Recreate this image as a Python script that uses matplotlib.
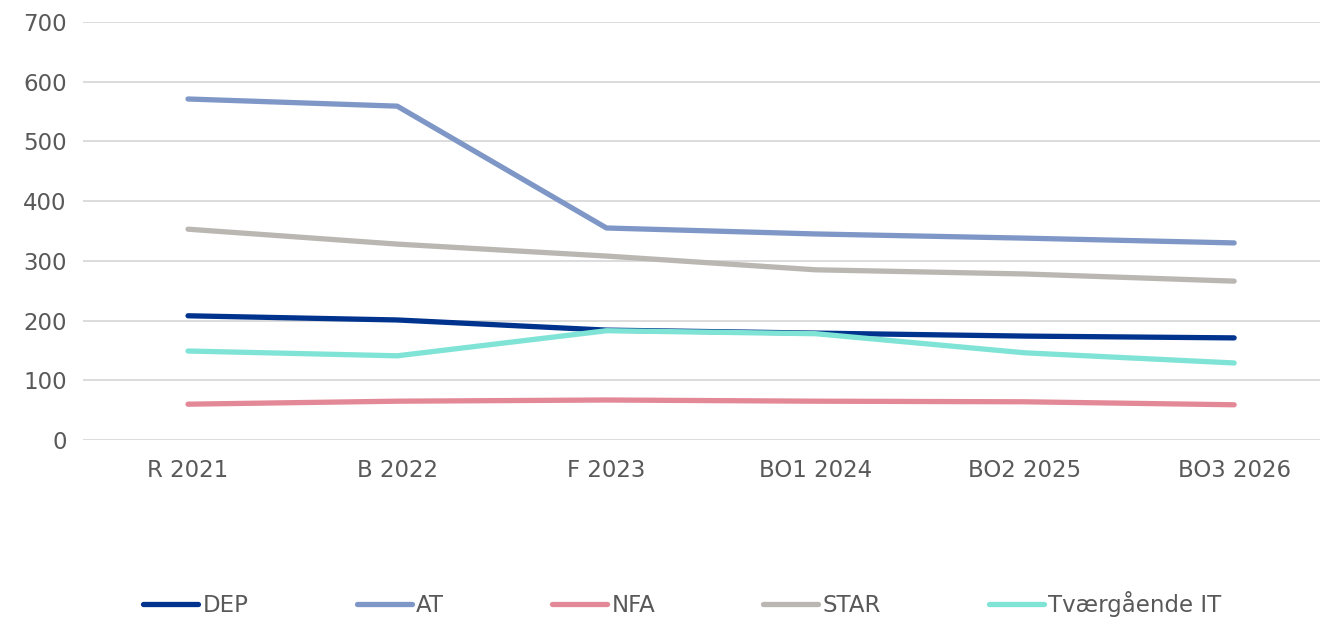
import matplotlib.pyplot as plt

# categories and series
years = ["R 2021", "B 2022", "F 2023", "BO1 2024", "BO2 2025", "BO3 2026"]
dep = [208, 201, 184, 179, 174, 171]
at = [571, 559, 355, 345, 338, 330]
nfa = [60, 65, 67, 65, 64, 59]
star = [353, 328, 308, 285, 278, 266]
tvaer = [149, 141, 183, 178, 146, 129]

series = [("DEP", dep, "#00338D"),
          ("AT", at, "#7F97C6"),
          ("NFA", nfa, "#E38896"),
          ("STAR", star, "#BAB7B3"),
          ("Tværgående IT", tvaer, "#7FE3D6")]

plt.rcParams['font.family'] = ['DejaVu Sans']

fig = plt.figure(figsize=(13.2, 6.18), dpi=100)
ax = fig.add_axes([0.0632, 0.288, 0.951, 0.6765])

x = list(range(len(years)))
for name, vals, col in series:
    ax.plot(x, vals, color=col, linewidth=3.8, label=name, solid_capstyle="round")

ax.set_xlim(-0.5, len(years) - 0.5)
ax.set_ylim(0, 700)
ax.set_yticks(range(0, 701, 100))
ax.set_xticks(x)
ax.set_xticklabels(years)
ax.grid(axis="y", color="#D9D9D9", linewidth=1.3)
ax.set_axisbelow(True)
for s in ax.spines.values():
    s.set_visible(False)
ax.tick_params(axis="both", length=0, labelsize=16.5, colors="#595959")
ax.tick_params(axis="x", pad=14)
ax.tick_params(axis="y", pad=12)

leg = fig.legend(loc="center", bbox_to_anchor=(0.517, 0.022), ncol=5, frameon=False,
                 fontsize=16.5, handlelength=2.4, handletextpad=0.2, columnspacing=4.7)
for t in leg.get_texts():
    t.set_color("#595959")

fig.savefig("out.png", dpi=100)
